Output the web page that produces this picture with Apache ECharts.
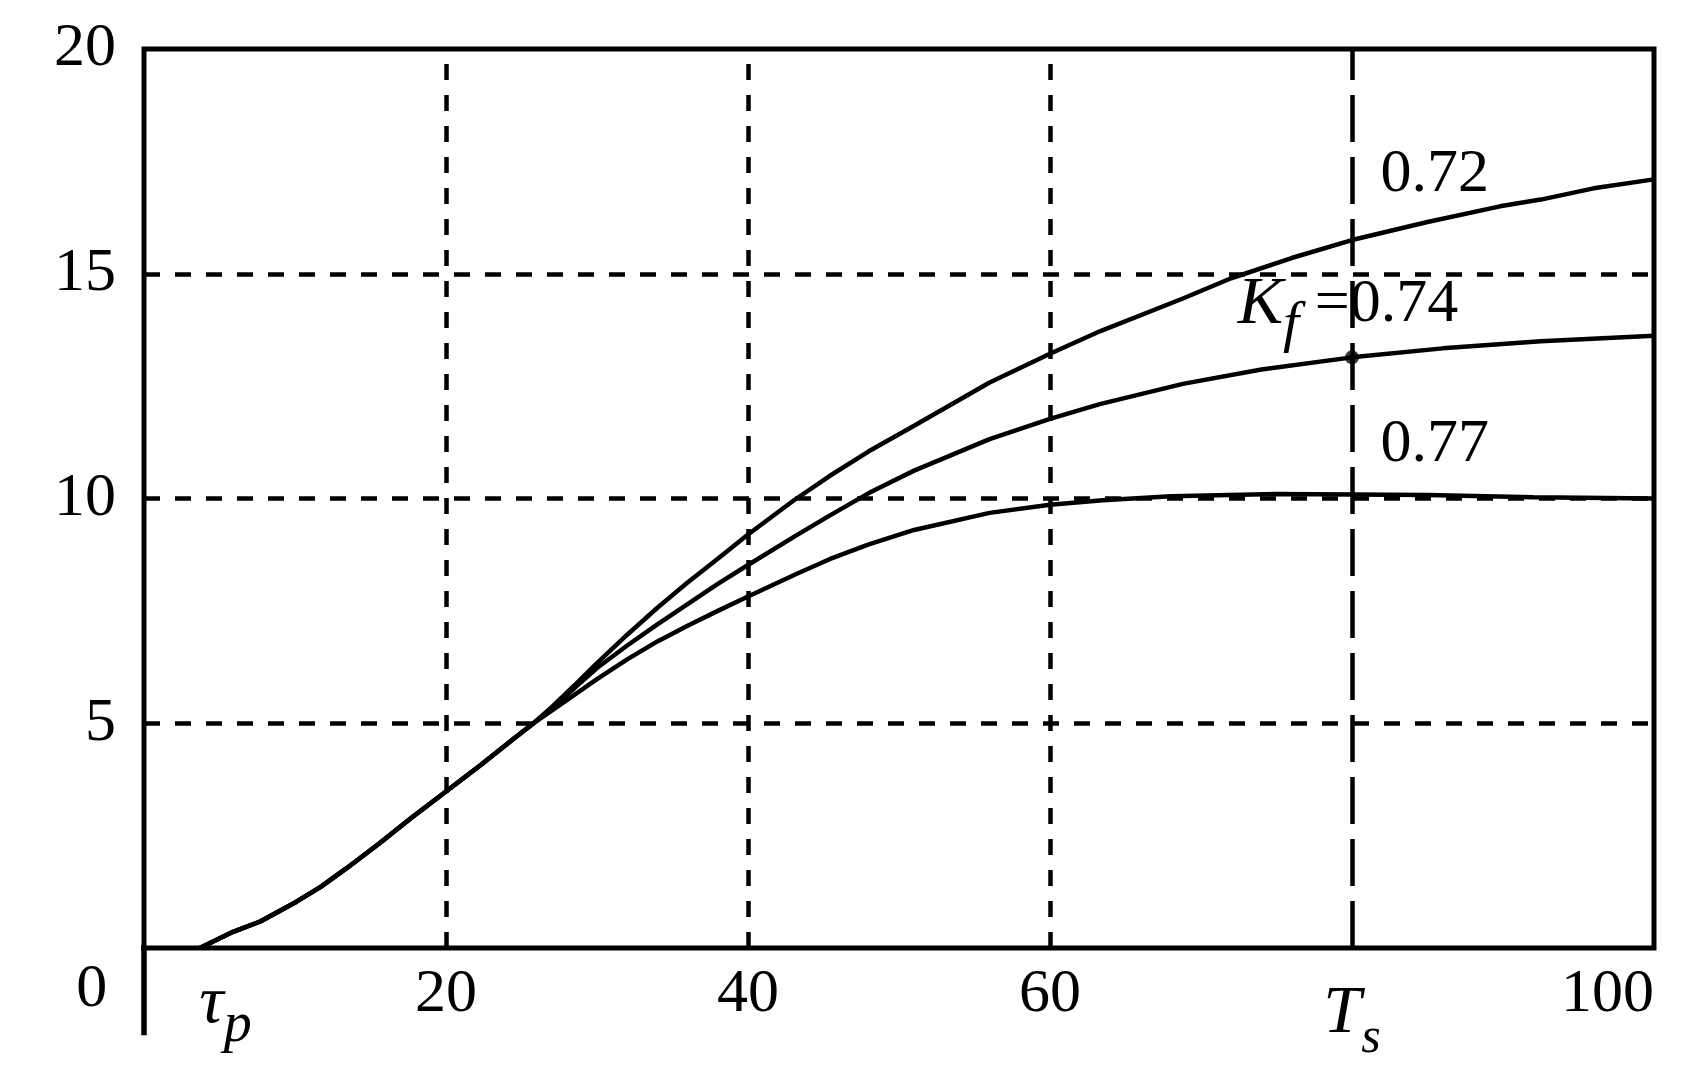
<!DOCTYPE html>
<html><head><meta charset="utf-8">
<script src="https://cdn.jsdelivr.net/npm/echarts@6/dist/echarts.min.js"></script>
<style>html,body{margin:0;padding:0;background:#fff}#c{width:1705px;height:1068px}</style>
</head><body><div id="c"></div>
<script>
// shared rising part of all three curves
const commonT = [3.7, 5.9, 7.7, 10.1, 11.7, 13.4, 15.6, 17.8, 20, 22.3, 24.5, 25.8];
const commonY = [0, 0.36, 0.59, 1.03, 1.36, 1.77, 2.33, 2.92, 3.48, 4.07, 4.66, 5.0];
// Kf = 0.72
const t072 = [27, 28.5, 30, 32, 34, 36, 38, 40, 43, 45.4, 48, 51, 56, 60, 63.3, 68.8, 72, 76, 80, 85, 89.8, 92.5, 96, 100];
const y072 = [5.36, 5.84, 6.34, 6.97, 7.57, 8.13, 8.66, 9.2, 9.95, 10.5, 11.05, 11.62, 12.58, 13.22, 13.72, 14.45, 14.9, 15.35, 15.75, 16.15, 16.5, 16.65, 16.9, 17.1];
// Kf = 0.74
const t074 = [27, 28.5, 30, 32, 34, 36, 38, 40, 43.2, 45.4, 48, 51, 56, 60, 63.3, 68.8, 74, 80, 86, 92.5, 100];
const y074 = [5.34, 5.78, 6.23, 6.73, 7.2, 7.65, 8.1, 8.52, 9.18, 9.62, 10.12, 10.62, 11.32, 11.77, 12.1, 12.55, 12.87, 13.14, 13.34, 13.5, 13.62];
// Kf = 0.77
const t077 = [27, 28.5, 30, 32, 34, 36, 38, 40, 43.2, 45.4, 48, 51, 56, 60, 63.5, 68, 75, 85, 92, 100];
const y077 = [5.28, 5.63, 5.98, 6.42, 6.82, 7.17, 7.5, 7.82, 8.32, 8.65, 8.98, 9.3, 9.68, 9.86, 9.96, 10.05, 10.1, 10.08, 10.03, 10.0];

const curveNames = ['0.72', '0.74', '0.77'];
const xGridLines = [20, 40, 60];
const yGridLines = [5, 10, 15];
const tsValue = 80;       // T_s
const tauPValue = 5.4;    // tau_p

function build(t, y) {
  const out = [];
  for (let i = 0; i < commonT.length; i++) out.push([commonT[i], commonY[i]]);
  for (let i = 0; i < t.length; i++) out.push([t[i], y[i]]);
  return out;
}

const FONT = 'Liberation Serif';
const FS = 62;
const BLACK = '#000';
const chart = echarts.init(document.getElementById('c'));

const curveStyle = { color: BLACK, width: 4.5 };
function curve(name, data, extra) {
  return Object.assign({
    name: name, type: 'line', data: data, showSymbol: false, smooth: false,
    lineStyle: curveStyle, silent: true, z: 4
  }, extra || {});
}

const markerY = y074[t074.indexOf(tsValue)];

function txt(extra) {
  return Object.assign({ show: true, color: BLACK, opacity: 1, fontFamily: FONT, fontSize: FS,
    textBorderWidth: 0, textShadowBlur: 0 }, extra);
}

chart.setOption({
  animation: false,
  backgroundColor: '#fff',
  grid: { left: 144, right: 51, top: 49, bottom: 120, show: true, borderColor: BLACK, borderWidth: 5 },
  xAxis: {
    type: 'value', min: 0, max: 100, interval: 20,
    axisLine: { show: false }, axisTick: { show: false }, splitLine: { show: false },
    axisLabel: {
      color: BLACK, fontFamily: FONT, fontSize: FS, margin: 16, alignMaxLabel: 'right',
      formatter: function (v) { if (v === 0) return ''; if (v === tsValue) return '{T|T}{s|s}'; return String(v); },
      rich: {
        T: { fontFamily: FONT, fontStyle: 'italic', fontSize: 68, color: BLACK, lineHeight: 100, verticalAlign: 'middle' },
        s: { fontFamily: FONT, fontStyle: 'italic', fontSize: 50, color: BLACK, lineHeight: 100, verticalAlign: 'bottom' }
      }
    }
  },
  yAxis: {
    type: 'value', min: 0, max: 20, interval: 5,
    axisLine: { show: false }, axisTick: { show: false }, splitLine: { show: false },
    axisLabel: {
      color: BLACK, fontFamily: FONT, fontSize: FS, margin: 28,
      formatter: function (v) { return v === 0 ? '' : String(v); }
    }
  },
  series: [
    curve(curveNames[0], build(t072, y072)),
    curve(curveNames[1], build(t074, y074)),
    curve(curveNames[2], build(t077, y077), {
      markLine: {
        silent: true, symbol: ['none', 'none'], label: { show: false }, animation: false,
        lineStyle: { color: BLACK, type: [16, 15], width: 4.5 },
        emphasis: { disabled: true },
        data: xGridLines.map(v => ({ xAxis: v })).concat(yGridLines.map(v => ({ yAxis: v }))).concat([
          { xAxis: tsValue, lineStyle: { color: BLACK, type: [47, 15], width: 4.5 } }
        ])
      }
    }),
    // axis extensions beyond the box
    { type: 'line', data: [[-6.7, 0], [0, 0]], clip: false, showSymbol: false, silent: true,
      lineStyle: { color: BLACK, width: 5.5 } },
    { type: 'line', data: [[0, -1.94], [0, 0]], clip: false, showSymbol: false, silent: true,
      lineStyle: { color: BLACK, width: 5.5 } },
    // marker on 0.74 curve at T_s
    { type: 'scatter', data: [[tsValue, markerY]], symbol: 'circle', symbolSize: 14, silent: true,
      itemStyle: { color: BLACK }, z: 6 },
    // text labels
    { type: 'scatter', clip: false, symbolSize: 1, silent: true, z: 7,
      itemStyle: { color: 'rgba(0,0,0,0)' },
      label: txt({ position: 'inside' }),
      data: [
        { value: [-3.46, -0.93], label: txt({ formatter: '0', position: 'inside' }) },
        { value: [tauPValue, -1.25], label: txt({
            position: 'inside',
            formatter: '{t|τ}{p|p}',
            rich: {
              t: { fontFamily: FONT, fontStyle: 'italic', fontSize: 68, color: BLACK, lineHeight: 100, verticalAlign: 'middle' },
              p: { fontFamily: FONT, fontStyle: 'italic', fontSize: 56, color: BLACK, lineHeight: 100, verticalAlign: 'bottom' }
            } }) },
        { value: [81.85, 17.2], label: txt({ formatter: curveNames[0], position: 'right', distance: 0 }) },
        { value: [72.4, 14.3], label: txt({
            formatter: '{K|K}{f|f}{n| =' + curveNames[1] + '}', position: 'right', distance: 0,
            rich: {
              K: { fontFamily: FONT, fontStyle: 'italic', fontSize: 68, color: BLACK, lineHeight: 100, verticalAlign: 'middle' },
              f: { fontFamily: FONT, fontStyle: 'italic', fontSize: 58, color: BLACK, lineHeight: 100, verticalAlign: 'bottom' },
              n: { fontFamily: FONT, fontSize: FS, color: BLACK, lineHeight: 100, verticalAlign: 'middle' }
            } }) },
        { value: [81.85, 11.19], label: txt({ formatter: curveNames[2], position: 'right', distance: 0 }) }
      ]
    }
  ]
});
</script>
</body></html>
